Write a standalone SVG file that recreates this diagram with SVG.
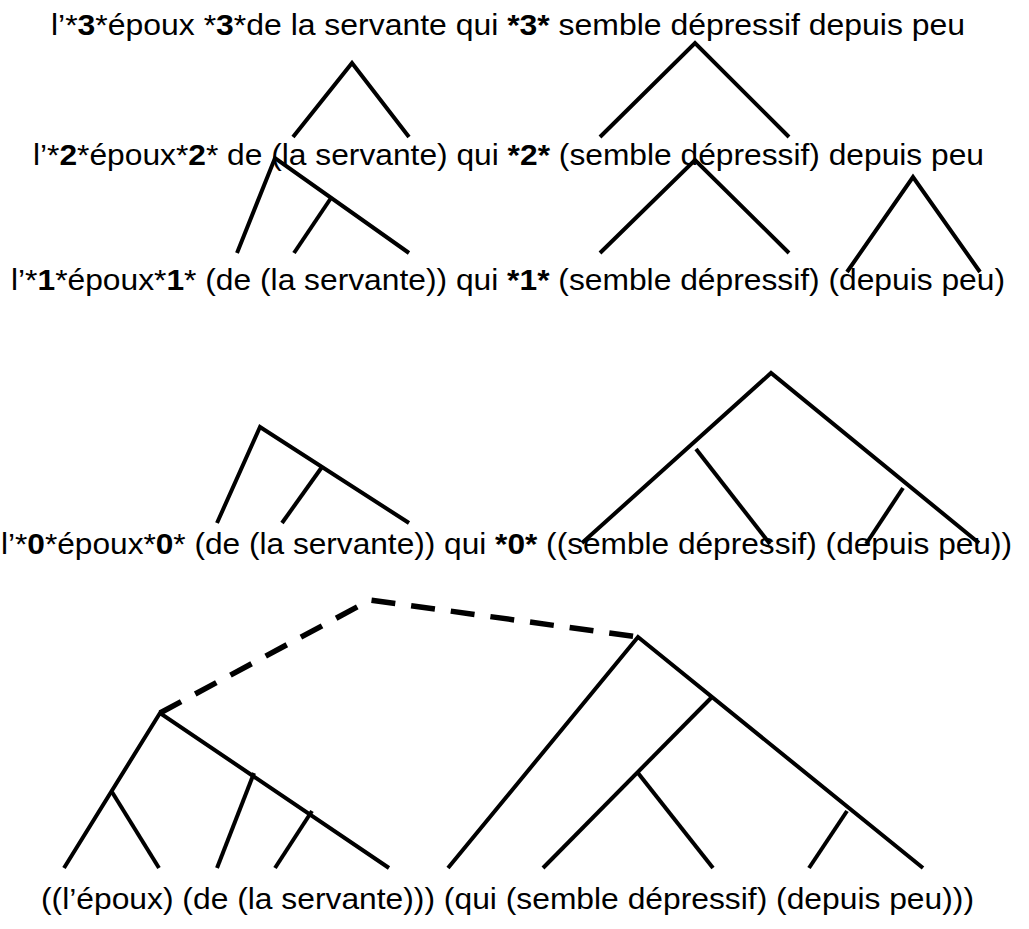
<svg xmlns="http://www.w3.org/2000/svg" width="1029" height="929" viewBox="0 0 1029 929">
<style>
text{font-family:"Liberation Sans",Arial,sans-serif;font-size:30px;fill:#000}
.b{font-weight:bold}
.e{stroke:#000;stroke-width:4;fill:none;stroke-linecap:butt}
.d{stroke:#000;stroke-width:5.5;fill:none;stroke-dasharray:24 16}
</style>
<rect width="1029" height="929" fill="#fff"/>
<g id="line3"><text x="51" y="35" textLength="914" lengthAdjust="spacingAndGlyphs">l’*<tspan class="b">3</tspan>*époux *<tspan class="b">3</tspan>*de la servante qui <tspan class="b">*3*</tspan> semble dépressif depuis peu</text></g>
<g id="line2"><text x="33" y="165" textLength="951" lengthAdjust="spacingAndGlyphs">l’*<tspan class="b">2</tspan>*époux*<tspan class="b">2</tspan>* de (la servante) qui <tspan class="b">*2*</tspan> (semble dépressif) depuis peu</text></g>
<g id="line1"><text x="11" y="290" textLength="994" lengthAdjust="spacingAndGlyphs">l’*<tspan class="b">1</tspan>*époux*<tspan class="b">1</tspan>* (de (la servante)) qui <tspan class="b">*1*</tspan> (semble dépressif) (depuis peu)</text></g>
<g id="line0"><text x="1" y="554" textLength="1011" lengthAdjust="spacingAndGlyphs">l’*<tspan class="b">0</tspan>*époux*<tspan class="b">0</tspan>* (de (la servante)) qui <tspan class="b">*0*</tspan> ((semble dépressif) (depuis peu))</text></g>
<g id="lineF"><text x="41" y="909" textLength="933" lengthAdjust="spacingAndGlyphs">((l’époux) (de (la servante))) (qui (semble dépressif) (depuis peu)))</text></g>
<g id="connectors">
<polyline class="e" points="293,137 352,63 409,137"/>
<polyline class="e" points="600,137 695,43 789,137"/>
<polyline class="e" points="237,253 275,158 409,253"/>
<line class="e" x1="331" y1="198" x2="294" y2="253"/>
<polyline class="e" points="600,253 695,160 789,253"/>
<polyline class="e" points="847,272 913,177 980,272"/>
<polyline class="e" points="217,523 260,427 409,523"/>
<line class="e" x1="322" y1="467" x2="282" y2="523"/>
<polyline class="e" points="582,543 771,373 979,543"/>
<line class="e" x1="696" y1="449" x2="770" y2="544"/>
<line class="e" x1="903" y1="488" x2="866" y2="544"/>
<polyline class="d" points="160,713 370,600 638,637"/>
<polyline class="e" points="64,868 160,713 389,868"/>
<line class="e" x1="112" y1="792" x2="159" y2="868"/>
<line class="e" x1="254" y1="773" x2="217" y2="868"/>
<line class="e" x1="312" y1="811" x2="275" y2="868"/>
<polyline class="e" points="448,868 638,637 923,868"/>
<line class="e" x1="712" y1="697" x2="543" y2="868"/>
<line class="e" x1="638" y1="773" x2="713" y2="868"/>
<line class="e" x1="847" y1="811" x2="809" y2="868"/>
</g>
</svg>
